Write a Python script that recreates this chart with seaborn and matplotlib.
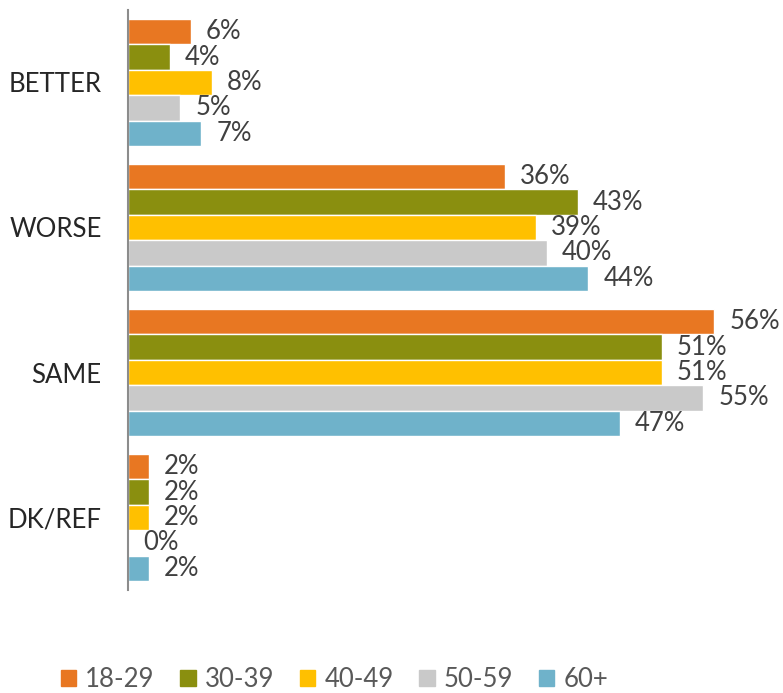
import pandas as pd
import matplotlib.pyplot as plt
import seaborn as sns

# datos
categorias = ["BETTER", "WORSE", "SAME", "DK/REF"]
edades = ["18-29", "30-39", "40-49", "50-59", "60+"]
v_18_29 = [6, 36, 56, 2]
v_30_39 = [4, 43, 51, 2]
v_40_49 = [8, 39, 51, 2]
v_50_59 = [5, 40, 55, 0]
v_60 = [7, 44, 47, 2]
colores = ["#E87722", "#8A8F0F", "#FFC000", "#C9C9C9", "#6FB2CA"]

valores = [v_18_29, v_30_39, v_40_49, v_50_59, v_60]
filas = []
for edad, serie in zip(edades, valores):
    for cat, v in zip(categorias, serie):
        filas.append({"categoria": cat, "edad": edad, "valor": v})
df = pd.DataFrame(filas)

sns.set_style("white")
plt.rcParams['font.family'] = ['Lato', 'DejaVu Sans']

fig = plt.figure(figsize=(7.83, 6.93), dpi=100)
ax = fig.add_axes([0.1635, 0.1486, 0.8365, 0.837])

sns.barplot(data=df, y="categoria", x="valor", hue="edad", orient="h",
            palette=colores, order=categorias, hue_order=edades,
            width=0.875, saturation=1, ax=ax, errorbar=None)

# etiquetas de valor
for cont in ax.containers:
    etiquetas = [f"{b.get_width():.0f}%" for b in cont]
    ax.bar_label(cont, labels=etiquetas, padding=11, fontsize=18.5, color="#404040")

ax.set_xlim(0, 62.6)
ax.set_ylim(3.5, -0.5)
ax.set_xlabel("")
ax.set_ylabel("")
ax.set_xticks([])
ax.tick_params(axis="y", length=0, pad=19, labelsize=18.5, labelcolor="#262626")

for lado in ["top", "right", "bottom"]:
    ax.spines[lado].set_visible(False)
ax.spines["left"].set_color("#8C8C8C")
ax.spines["left"].set_linewidth(1.5)

ax.legend_.remove()
handles = [plt.Rectangle((0, 0), 1, 1, color=c) for c in colores]
fig.legend(handles, edades, loc="center", bbox_to_anchor=(0.427, 0.019), ncol=5,
           frameon=False, fontsize=18.5, handlelength=0.6, handleheight=0.6,
           handletextpad=0.35, columnspacing=1.0, labelcolor="#595959")

plt.savefig("out.png", dpi=100)
